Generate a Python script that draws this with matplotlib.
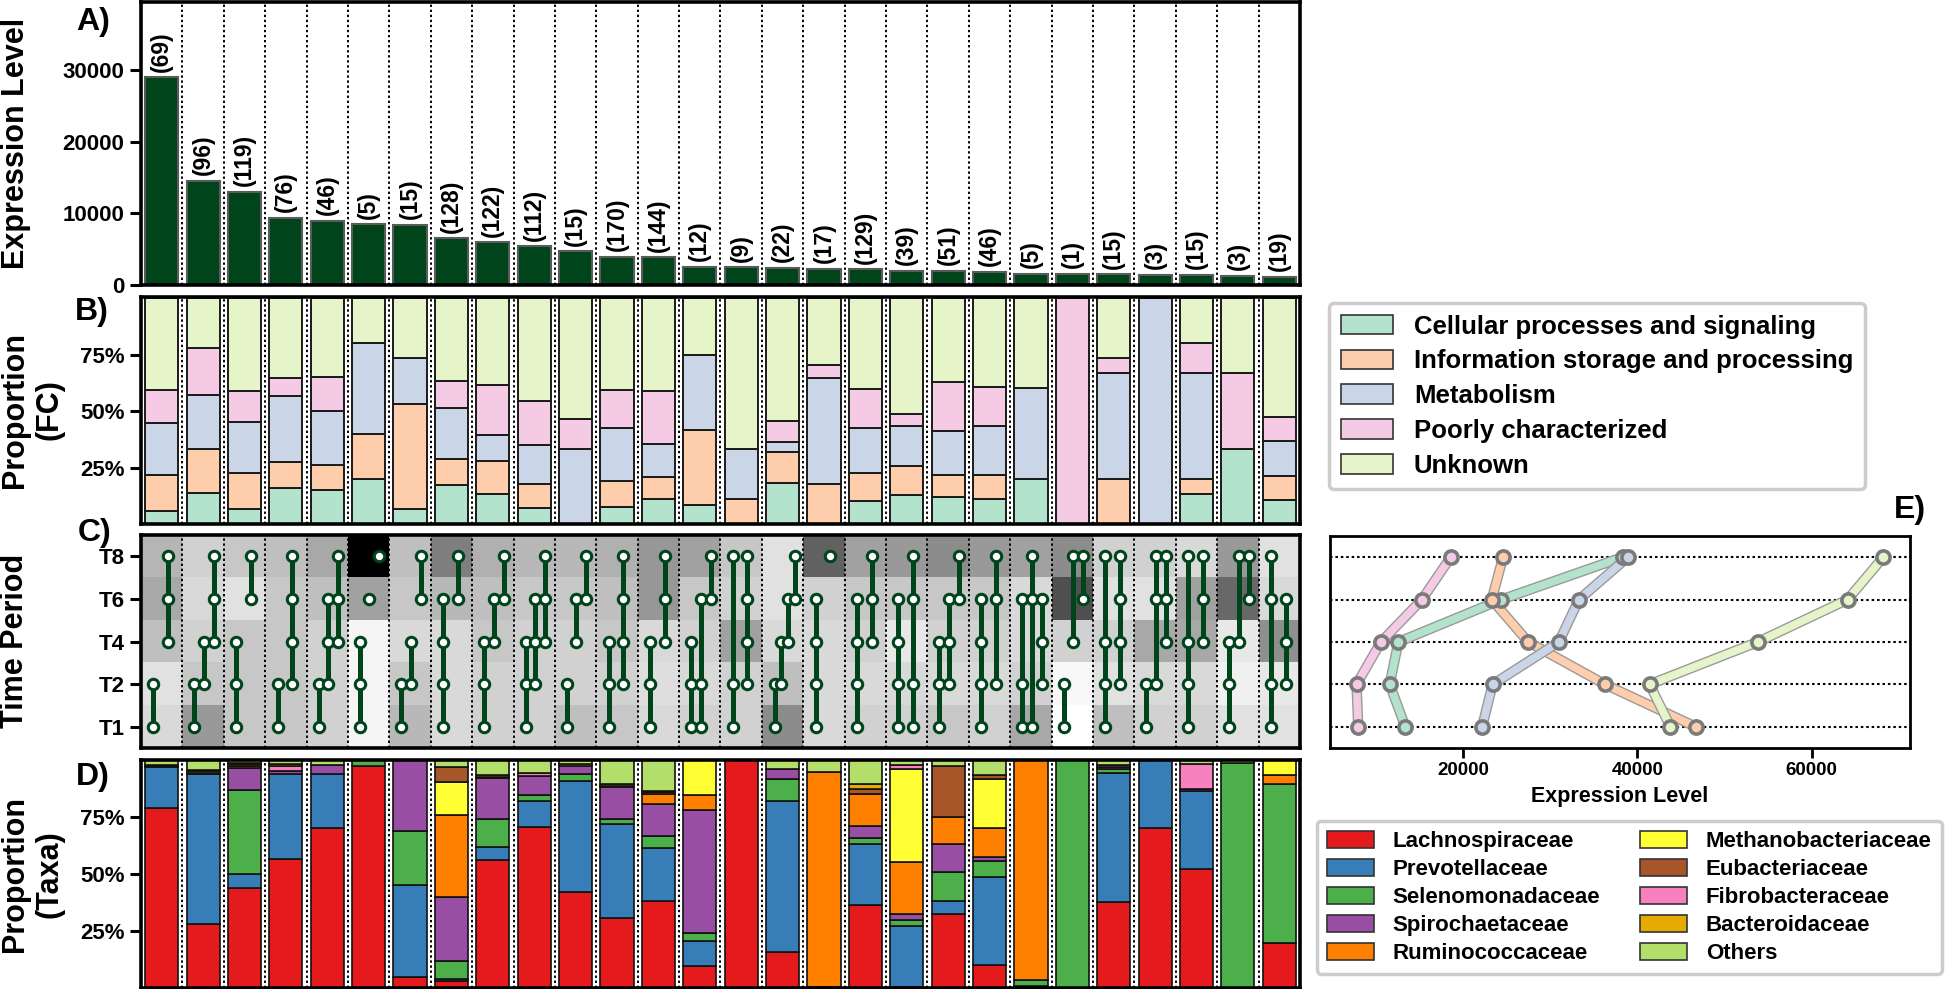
import numpy as np
import matplotlib
matplotlib.use("Agg")
import matplotlib.pyplot as plt
from matplotlib.patches import Patch
import matplotlib.patheffects as pe

plt.rcParams['font.family'] = ['Liberation Sans', 'DejaVu Sans']
plt.rcParams['font.weight'] = 'bold'
plt.rcParams['axes.labelweight'] = 'bold'

# ---------------- data ----------------
gene_counts = [69, 96, 119, 76, 46, 5, 15, 128, 122, 112, 15, 170, 144, 12,
               9, 22, 17, 129, 39, 51, 46, 5, 1, 15, 3, 15, 3, 19]
expression = [29000, 14550, 13050, 9400, 8980, 8500, 8370, 6500, 5950, 5400,
              4700, 3950, 3860, 2510, 2480, 2420, 2230, 2190, 2000, 2000,
              1860, 1580, 1580, 1490, 1400, 1400, 1300, 1160]

fc_names = ['Cellular processes and signaling', 'Information storage and processing',
            'Metabolism', 'Poorly characterized', 'Unknown']
fc_colors = ['#b3e2cd', '#fdcdac', '#cbd5e8', '#f4cae4', '#e6f5c9']
fc_cellular = [4, 13, 8, 12, 7, 1, 1, 22, 16, 8, 0, 13, 16, 1, 0, 4, 0, 13, 5, 6, 5, 1, 0, 0, 0, 2, 1, 2]
fc_info     = [11, 19, 19, 9, 5, 1, 7, 15, 18, 12, 0, 19, 14, 4, 1, 3, 3, 16, 5, 5, 5, 0, 0, 3, 0, 1, 0, 2]
fc_metab    = [16, 23, 27, 22, 11, 2, 3, 29, 14, 19, 5, 40, 21, 4, 2, 1, 8, 26, 7, 10, 10, 2, 0, 7, 3, 7, 0, 3]
fc_poorly   = [10, 20, 16, 6, 7, 0, 0, 15, 27, 22, 2, 29, 34, 0, 0, 2, 1, 22, 2, 11, 8, 0, 1, 1, 0, 2, 1, 2]
fc_unknown  = [28, 21, 49, 27, 16, 1, 4, 47, 47, 51, 8, 69, 59, 3, 6, 12, 5, 52, 20, 19, 18, 2, 0, 4, 0, 3, 1, 10]

time_labels = ['T1', 'T2', 'T4', 'T6', 'T8']
# relative expression per time period (heat map intensity, 0 = low, 1 = high)
heat_T1 = [.15, .40, .22, .22, .18, .04, .28, .15, .18, .18, .25, .22, .15, .18,
           .18, .45, .15, .18, .18, .22, .18, .34, .00, .25, .18, .18, .12, .12]
heat_T2 = [.12, .22, .22, .22, .18, .04, .22, .15, .18, .18, .18, .18, .13, .15,
           .18, .25, .15, .15, .15, .15, .15, .18, .03, .12, .15, .15, .06, .09]
heat_T4 = [.25, .18, .22, .22, .18, .04, .15, .15, .22, .18, .18, .22, .15, .18,
           .37, .15, .15, .18, .09, .18, .18, .15, .18, .18, .34, .34, .09, .44]
heat_T6 = [.34, .15, .12, .22, .25, .37, .22, .28, .25, .22, .22, .25, .41, .22,
           .18, .12, .18, .22, .22, .22, .22, .15, .69, .12, .12, .37, .59, .15]
heat_T8 = [.29, .18, .22, .25, .34, 1.0, .25, .50, .31, .28, .28, .31, .41, .37,
           .22, .12, .62, .37, .40, .45, .40, .37, .45, .18, .18, .15, .40, .12]

# expression patterns over time periods (indices into time_labels)
patterns = [
    [[0, 1], [2, 3, 4]],
    [[0, 1], [1, 2], [2, 3, 4]],
    [[0, 1, 2], [3, 4]],
    [[0, 1], [1, 2, 3, 4]],
    [[0, 1], [1, 2, 3], [2, 3, 4]],
    [[0, 1, 2], [3], [4]],
    [[0, 1], [1, 2], [3, 4]],
    [[0, 1, 2, 3], [3, 4]],
    [[0, 1, 2], [2, 3], [3, 4]],
    [[0, 1, 2], [1, 2, 3], [2, 3, 4]],
    [[0, 1], [2, 3], [3, 4]],
    [[0, 1, 2], [1, 2, 3, 4]],
    [[0, 1, 2], [2, 3, 4]],
    [[0, 1, 2], [0, 1, 3], [3, 4]],
    [[0, 1, 4], [1, 2, 3, 4]],
    [[0, 1], [1, 2], [2, 3], [3, 4]],
    [[0, 1, 2, 3], [4]],
    [[0, 1, 2, 3], [2, 3, 4]],
    [[0, 1, 2, 3], [0, 1, 3, 4]],
    [[0, 1, 2], [1, 2, 3], [3, 4]],
    [[0, 1, 2, 3], [1, 3, 4]],
    [[0, 1, 3], [0, 3, 4], [1, 2, 3]],
    [[0, 1], [2, 4], [3, 4]],
    [[0, 1, 2, 4], [1, 2, 3, 4]],
    [[0, 1], [1, 3, 4], [2, 3, 4]],
    [[0, 1, 2, 4], [2, 3, 4]],
    [[0, 1, 2], [2, 4], [3, 4]],
    [[0, 1, 3, 4], [1, 2, 3]],
]

taxa_names = ['Lachnospiraceae', 'Prevotellaceae', 'Selenomonadaceae', 'Spirochaetaceae',
              'Ruminococcaceae', 'Methanobacteriaceae', 'Eubacteriaceae', 'Fibrobacteraceae',
              'Bacteroidaceae', 'Others']
taxa_colors = ['#e41a1c', '#377eb8', '#4daf4a', '#984ea3', '#ff7f00',
               '#ffff33', '#a65628', '#f781bf', '#e6ab02', '#b3de69']
lachno  = [.79, .28, .44, .566, .70, .975, .05, .03, .562, .706, .42, .309, .382, .096,
           1.0, .159, .005, .363, .003, .326, .101, .01, 0, .376, .701, .522, 0, .199]
prevo   = [.18, .66, .06, .371, .237, 0, .40, .01, .056, .116, .49, .41, .231, .108,
           0, .662, 0, .269, .269, .055, .384, 0, 0, .568, .299, .341, 0, 0]
seleno  = [.005, 0, .37, 0, 0, .025, .24, .08, .125, .024, .027, .024, .053, .039,
           0, .097, 0, .024, .025, .126, .072, .027, 1.0, .018, 0, 0, .985, .697]
spiro   = [.005, .005, .095, .015, .04, 0, .31, .277, .176, .083, .037, .138, .141, .536,
           0, .041, 0, .053, .027, .124, .017, 0, 0, .007, 0, .012, 0, 0]
rumino  = [0, .005, .008, 0, 0, 0, 0, .363, 0, 0, 0, 0, .046, .067,
           0, 0, .942, .142, .228, .119, .127, .963, 0, 0, 0, 0, 0, .038]
methano = [0, 0, 0, 0, 0, 0, 0, .144, 0, 0, 0, 0, 0, .154,
           0, 0, 0, 0, .41, 0, .217, 0, 0, 0, 0, 0, 0, .066]
eubact  = [0, 0, .008, 0, 0, 0, 0, .065, 0, 0, 0, .005, .007, 0,
           0, 0, 0, .023, 0, .224, .017, 0, 0, 0, 0, 0, 0, 0]
fibro   = [0, 0, 0, .02, 0, 0, 0, 0, .005, .016, 0, 0, 0, 0,
           0, 0, 0, 0, .017, 0, 0, 0, 0, .011, 0, .106, 0, 0]
bactero = [0, .005, .007, .01, 0, 0, 0, 0, .012, 0, .008, .01, .005, 0,
           0, 0, 0, .022, 0, 0, 0, 0, 0, 0, 0, 0, 0, 0]
others  = [.02, .045, .012, .018, .023, 0, 0, .031, .064, .055, .018, .104, .135, 0,
           0, .041, .053, .104, .021, .026, .065, 0, 0, .02, 0, .019, .015, 0]

e_cellular = [13400, 11600, 12600, 24400, 38300]
e_info     = [46700, 36300, 27500, 23300, 24600]
e_metab    = [22200, 23400, 31000, 33300, 38900]
e_poorly   = [8000, 7800, 10600, 15300, 18600]
e_unknown  = [43800, 41400, 53800, 64100, 68200]

# ---------------- figure ----------------
W, H = 1946, 989
fig = plt.figure(figsize=(W / 100, H / 100), dpi=100)


def rect(l, t, r, b):
    return [l / W, 1 - b / H, (r - l) / W, (b - t) / H]


n = len(gene_counts)
x = np.arange(n)
L, R = 141, 1300
DOT = (0, (1.2, 1.4))


def frame(ax, lw=2.6):
    for s in ax.spines.values():
        s.set_linewidth(lw)
        s.set_color('black')


def separators(ax):
    for b in np.arange(0.5, n - 0.5):
        ax.axvline(b, color='black', ls=DOT, lw=1.4, zorder=0.5)


# ---- A ----
axA = fig.add_axes(rect(L, 2, R, 285))
axA.bar(x, expression, width=0.8, color='#00441b', edgecolor='#5a5a5a', linewidth=1.5, zorder=2)
for xi, h, c in zip(x, expression, gene_counts):
    axA.annotate(f'({c})', (xi, h), xytext=(0, 4), textcoords='offset points',
                 rotation=90, ha='center', va='bottom', fontsize=16.5, fontweight='bold')
separators(axA)
axA.set_xlim(-0.5, n - 0.5)
axA.set_ylim(0, 39500)
axA.set_yticks([0, 10000, 20000, 30000])
axA.set_xticks([])
frame(axA)

# ---- B ----
axB = fig.add_axes(rect(L, 297, R, 524))
fc_counts = np.array([fc_cellular, fc_info, fc_metab, fc_poorly, fc_unknown], dtype=float)
fc_prop = fc_counts / fc_counts.sum(axis=0)
bottom = np.zeros(n)
for vals, col in zip(fc_prop, fc_colors):
    axB.bar(x, vals, bottom=bottom, width=0.8, color=col, edgecolor='#1a1a1a',
            linewidth=np.where(vals > 0, 1.4, 0), zorder=2)
    bottom += vals
separators(axB)
axB.set_xlim(-0.5, n - 0.5)
axB.set_ylim(0, 1.005)
axB.set_yticks([0.25, 0.5, 0.75])
axB.set_yticklabels(['25%', '50%', '75%'])
axB.set_xticks([])
frame(axB)

# ---- C ----
axC = fig.add_axes(rect(L, 535, R, 748))
heat = np.array([heat_T1, heat_T2, heat_T4, heat_T6, heat_T8])
axC.imshow(heat, cmap='gray_r', vmin=0, vmax=1, aspect='auto', origin='lower',
           extent=(-0.5, n - 0.5, -0.5, 4.5), interpolation='nearest', zorder=0)
separators(axC)
offsets = {1: [0.0], 2: [-0.2, 0.15], 3: [-0.21, 0.02, 0.26], 4: [-0.19, -0.04, 0.13, 0.29]}
for ci, segs in enumerate(patterns):
    for off, seg in zip(offsets[len(segs)], segs):
        axC.plot([ci + off] * len(seg), seg, '-o', color='#00441b', lw=3.6,
                 markersize=7.5, markerfacecolor='white', markeredgecolor='#00441b',
                 markeredgewidth=2.2, zorder=3)
axC.set_xlim(-0.5, n - 0.5)
axC.set_ylim(-0.5, 4.5)
axC.set_yticks(range(5))
axC.set_yticklabels(time_labels)
axC.set_xticks([])
frame(axC)

# ---- D ----
axD = fig.add_axes(rect(L, 760, R, 988))
taxa = np.array([lachno, prevo, seleno, spiro, rumino, methano, eubact, fibro, bactero, others])
bottom = np.zeros(n)
for vals, col in zip(taxa, taxa_colors):
    axD.bar(x, vals, bottom=bottom, width=0.8, color=col, edgecolor='#111111',
            linewidth=np.where(vals > 0, 1.2, 0), zorder=2)
    bottom += vals
separators(axD)
axD.set_xlim(-0.5, n - 0.5)
axD.set_ylim(0, 1.0)
axD.set_yticks([0.25, 0.5, 0.75])
axD.set_yticklabels(['25%', '50%', '75%'])
axD.set_xticks([])
frame(axD)

for ax in (axA, axB, axC, axD):
    ax.tick_params(axis='y', length=8, width=2.2, labelsize=16, pad=4)
    for t in ax.get_yticklabels():
        t.set_fontweight('bold')

# ---- E ----
axE = fig.add_axes(rect(1330, 536, 1910, 748))
for yv in range(5):
    axE.axhline(yv, color='black', ls=DOT, lw=1.5, zorder=0)
yy = np.arange(5)
for vals, col in zip([e_cellular, e_info, e_metab, e_poorly, e_unknown], fc_colors):
    axE.plot(vals, yy, '-', color=col, lw=5.5, zorder=2,
             path_effects=[pe.Stroke(linewidth=7.5, foreground='#9a9a9a'), pe.Normal()])
    axE.plot(vals, yy, 'o', color=col, markersize=9.5, markeredgecolor='#7a7a7a',
             markeredgewidth=2.6, zorder=3)
axE.set_xlim(4760, 71260)
axE.set_ylim(-0.5, 4.5)
axE.set_xticks([20000, 40000, 60000])
axE.set_yticks([])
axE.tick_params(axis='x', length=7, width=2, labelsize=13.5, pad=3)
for t in axE.get_xticklabels():
    t.set_fontweight('bold')
axE.set_xlabel('Expression Level', fontsize=15.5, fontweight='bold', labelpad=5)
frame(axE, 2)

# ---- legends ----
fc_handles = [Patch(facecolor=c, edgecolor='#333333', linewidth=1.2) for c in fc_colors]
leg1 = fig.legend(fc_handles, fc_names, loc='upper left', bbox_to_anchor=(1329 / W, 1 - 303 / H),
                  borderaxespad=0, fontsize=18.5, handlelength=2.05, handleheight=0.8,
                  handletextpad=0.8, labelspacing=0.42, borderpad=0.45, frameon=True,
                  fancybox=True, edgecolor='#cccccc', framealpha=1)
leg1.get_frame().set_linewidth(2.5)
for t in leg1.get_texts():
    t.set_fontweight('bold')

taxa_handles = [Patch(facecolor=c, edgecolor='#333333', linewidth=1.2) for c in taxa_colors]
leg2 = fig.legend(taxa_handles, taxa_names, loc='upper left', bbox_to_anchor=(1317 / W, 1 - 821 / H),
                  borderaxespad=0, ncol=2, fontsize=16, handlelength=2.1, handleheight=0.8,
                  handletextpad=0.85, labelspacing=0.3, columnspacing=1.8, borderpad=0.45,
                  frameon=True, fancybox=True, edgecolor='#cccccc', framealpha=1)
leg2.get_frame().set_linewidth(2.5)
for t in leg2.get_texts():
    t.set_fontweight('bold')

# ---- labels ----
fig.text(16 / W, 1 - 143 / H, 'Expression Level', rotation=90, ha='center', va='center',
         fontsize=22, fontweight='bold')
fig.text(32 / W, 1 - 410 / H, 'Proportion\n(FC)', rotation=90, ha='center', va='center',
         fontsize=22, fontweight='bold', multialignment='center')
fig.text(15 / W, 1 - 641 / H, 'Time Period', rotation=90, ha='center', va='center',
         fontsize=22, fontweight='bold')
fig.text(32 / W, 1 - 874 / H, 'Proportion\n(Taxa)', rotation=90, ha='center', va='center',
         fontsize=22, fontweight='bold', multialignment='center')
for lab, (px, py) in zip(['A)', 'B)', 'C)', 'D)', 'E)'],
                         [(93, 22), (92, 312), (95, 533), (93, 777), (1910, 510)]):
    fig.text(px / W, 1 - py / H, lab, ha='center', va='center', fontsize=23, fontweight='bold')

fig.savefig('out.png', dpi=100)
